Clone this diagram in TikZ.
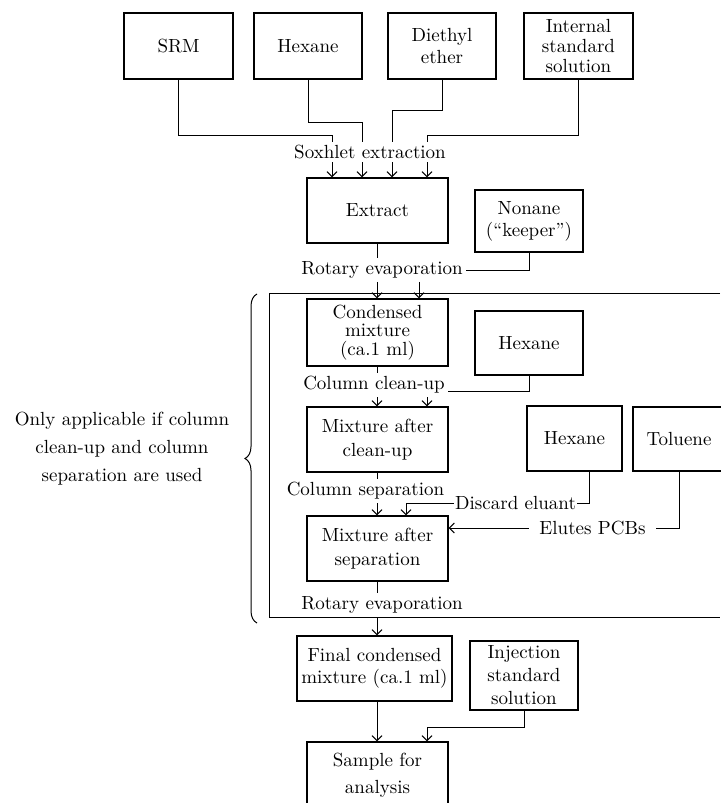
\documentclass[tikz,border=0pt]{standalone}
\usetikzlibrary{arrows.meta,decorations.pathreplacing}
\begin{document}
\begin{tikzpicture}[x=0.5pt,y=-0.5pt,line width=0.5pt,
        font=\fontsize{9.5}{11}\selectfont,
        stage/.style={draw, line width=0.65pt, align=center, inner sep=1pt},
        step label/.style={inner sep=1.5pt, align=center},
        flow/.style={-{Straight Barb[length=2.5pt,width=5pt]}}]
    \useasboundingbox (0,0) rectangle (720,803);
    % solvents and sample
    \node[stage, minimum width=54.5pt, minimum height=33pt] (srm) at (178.5,46) {SRM};
    \node[stage, minimum width=54pt, minimum height=33pt] (hexa) at (308,46) {Hexane};
    \node[stage, minimum width=54pt, minimum height=33pt] (ether) at (442,46) {Diethyl\\ether};
    \node[stage, minimum width=54.5pt, minimum height=33pt, font=\fontsize{9.5}{10.2}\selectfont] (intstd) at (578.5,46) {Internal\\standard\\solution};
    \node[step label] (soxhlet) at (370,152) {Soxhlet extraction};
    \draw (srm.south) -- ++(0,56) -| (soxhlet.north -| 332,0);
    \draw (hexa.south) -- ++(0,43) -| (soxhlet.north -| 362,0);
    \draw (ether.south) -- ++(0,31) -| (soxhlet.north -| 392,0);
    \draw (intstd.south) -- ++(0,56) -| (soxhlet.north -| 427,0);
    \node[stage, minimum width=70.5pt, minimum height=32.5pt] (extract) at (377.5,210.5) {Extract};
    \foreach \x in {332,362,392,427}
        \draw[flow] (soxhlet.south -| \x,0) -- (extract.north -| \x,0);
    \node[stage, minimum width=54pt, minimum height=31pt] (nonane) at (529,221) {Nonane\\(“keeper”)};
    \node[step label] (rotary) at (382,270) {Rotary evaporation};
    \draw (extract.south) -- (extract |- rotary.north);
    \draw (nonane.south) |- (rotary.east);
    % optional clean-up and separation
    \draw (720,293) -- (269,293) -- (269,617) -- (720,617);
    \draw[decorate, decoration={brace, amplitude=6pt}] (257,623) -- (257,294);
    \node[step label, font=\fontsize{9.5}{14}\selectfont] (optional) at (122,449) {Only applicable if column\\clean-up and column\\separation are used};
    \node[stage, minimum width=70.5pt, minimum height=33.5pt, font=\fontsize{9.5}{9.3}\selectfont] (condensed) at (377.5,332.5) {Condensed\\mixture\\(ca.1 ml)};
    \foreach \x in {377,419}
        \draw[flow] (rotary.south -| \x,0) -- (condensed.north -| \x,0);
    \node[stage, minimum width=54pt, minimum height=32pt] (hexb) at (529,343) {Hexane};
    \node[step label] (cleanup) at (374,385) {Column clean-up};
    \draw (condensed.south) -- (condensed |- cleanup.north);
    \draw (hexb.south) |- ([yshift=-3pt]cleanup.east);
    \node[stage, minimum width=70.5pt, minimum height=32.5pt, font=\fontsize{9.5}{12}\selectfont] (aftercleanup) at (377.5,439.5) {Mixture after\\clean-up};
    \foreach \x in {377,427}
        \draw[flow] (cleanup.south -| \x,0) -- (aftercleanup.north -| \x,0);
    \node[stage, minimum width=47.5pt, minimum height=32.5pt] (hexc) at (574.5,438.5) {Hexane};
    \node[stage, minimum width=46pt, minimum height=32pt] (toluene) at (679,439) {Toluene};
    \node[step label] (colsep) at (365.5,491) {Column separation};
    \draw (aftercleanup.south) -- (aftercleanup |- colsep.north);
    \node[stage, minimum width=70.5pt, minimum height=32.5pt, font=\fontsize{9.5}{12}\selectfont] (afterseparation) at (377.5,548.5) {Mixture after\\separation};
    \draw[flow] (colsep.south -| 377,0) -- (afterseparation.north -| 377,0);
    \node[step label, inner sep=0.5pt] (discard) at (515.5,503) {Discard eluant};
    \draw ([xshift=7.25pt]hexc.south) |- (discard.east);
    \draw[flow] (discard.west) -| (afterseparation.north -| 406,0);
    \node[step label, inner xsep=5pt] (elutes) at (592.5,528) {Elutes PCBs};
    \draw (toluene.south) |- (elutes.east);
    \draw[flow] (elutes.west) -- (elutes.west -| afterseparation.east);
    \node[step label] (rotaryb) at (382,605) {Rotary evaporation};
    \draw (afterseparation.south) -- (afterseparation |- rotaryb.north);
    % final steps
    \node[stage, minimum width=77.5pt, minimum height=32.5pt] (final) at (374.5,668.5) {Final condensed\\mixture (ca.1 ml)};
    \draw[flow] (377,617) -- (final.north -| 377,0);
    \node[stage, minimum width=54pt, minimum height=34.5pt, font=\fontsize{9.5}{11.5}\selectfont] (injection) at (524,675.5) {Injection\\standard\\solution};
    \node[stage, minimum width=70.5pt, minimum height=33.5pt, font=\fontsize{9.5}{13.5}\selectfont] (sample) at (377.5,775.5) {Sample for\\analysis};
    \draw[flow] (final.south -| 377,0) -- (sample.north -| 377,0);
    \draw[flow] (injection.south) -- ++(0,17) -| (sample.north -| 427,0);
\end{tikzpicture}
\end{document}
